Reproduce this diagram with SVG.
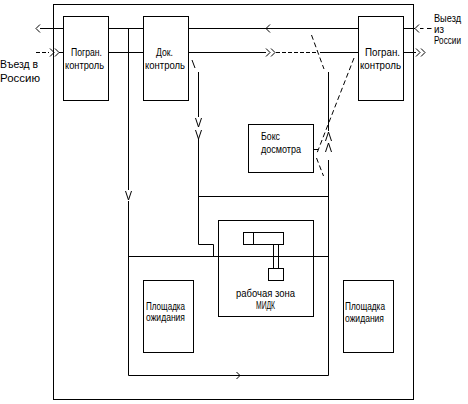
<svg xmlns="http://www.w3.org/2000/svg" width="468" height="404" viewBox="0 0 468 404">
<style>
.b{fill:none;stroke:#000;stroke-width:1}
.l{fill:none;stroke:#000;stroke-width:1}
.d{fill:none;stroke:#000;stroke-width:1;stroke-dasharray:4,2}
.d2{fill:none;stroke:#000;stroke-width:1;stroke-dasharray:5,3}
text{font-family:"Liberation Sans","DejaVu Sans",sans-serif;font-size:10.5px;fill:#000}
</style>
<rect x="0" y="0" width="468" height="404" fill="#fff"/>
<g id="outer"><rect class="b" x="53.5" y="4.5" width="360" height="395"/></g>
<g id="connectors">
<polyline class="l" points="40,24.5 36,28.5 40,32.5"/>
<line class="l" x1="40" y1="28.5" x2="63.5" y2="28.5"/>
<line class="l" x1="108.5" y1="28.5" x2="143.5" y2="28.5"/>
<line class="l" x1="188.5" y1="28.5" x2="358.5" y2="28.5"/>
<polyline class="l" points="270,24.5 266,28.5 270,32.5"/>
<line class="l" x1="403.5" y1="28.5" x2="415" y2="28.5"/>
<polyline class="l" points="419,24.5 415,28.5 419,32.5"/>
<line class="l" x1="420" y1="28.5" x2="423.5" y2="28.5"/>
<line class="l" x1="427" y1="28.5" x2="431.5" y2="28.5"/>
<line class="d" x1="36" y1="52.5" x2="49" y2="52.5" stroke-dasharray="3,2"/>
<polyline class="l" points="50,48.5 54,52.5 50,56.5"/>
<polyline class="l" points="55,48.5 59,52.5 55,56.5"/>
<line class="l" x1="59" y1="52.5" x2="63.5" y2="52.5"/>
<line class="l" x1="108.5" y1="52.5" x2="143.5" y2="52.5"/>
<line class="l" x1="188.5" y1="52.5" x2="266" y2="52.5"/>
<polyline class="l" points="266,48.5 270,52.5 266,56.5"/>
<polyline class="l" points="271,48.5 275,52.5 271,56.5"/>
<line class="d" x1="276" y1="52.5" x2="316" y2="52.5" stroke-dasharray="3,2"/>
<line class="l" x1="320" y1="52.5" x2="358.5" y2="52.5"/>
<line class="l" x1="403.5" y1="52.5" x2="416" y2="52.5"/>
<polyline class="l" points="416,48.5 420,52.5 416,56.5"/>
<polyline class="l" points="421,48.5 425,52.5 421,56.5"/>
<line class="l" x1="128.5" y1="28.5" x2="128.5" y2="190"/>
<polyline class="l" points="125.5,191 128.5,200 131.5,191"/>
<polyline class="l" points="128.5,201 128.5,375.5 328.5,375.5 328.5,160"/>
<polyline class="l" points="236.5,372 240,375.5 236.5,379"/>
<line class="l" x1="192" y1="60" x2="195" y2="68"/>
<line class="l" x1="198.5" y1="72" x2="198.5" y2="117"/>
<polyline class="l" points="195.5,118 198.5,127 201.5,118"/>
<polyline class="l" points="195.5,130 198.5,139 201.5,130"/>
<polyline class="l" points="198.5,139 198.5,244.5 213.5,244.5 213.5,256.5"/>
<line class="l" x1="198.5" y1="196.5" x2="328.5" y2="196.5"/>
<line class="l" x1="128.5" y1="256.5" x2="328.5" y2="256.5"/>
<line class="d2" x1="311.5" y1="35" x2="324" y2="69"/>
<line class="l" x1="328.5" y1="72" x2="328.5" y2="131"/>
<polyline class="l" points="325.5,141 328.5,132 331.5,141"/>
<polyline class="l" points="325.5,152 328.5,143 331.5,152"/>
<line class="d2" x1="354" y1="58" x2="317" y2="153"/>
<line class="l" x1="313.5" y1="149.5" x2="318" y2="149.5"/>
<line class="d2" x1="316.5" y1="158" x2="323.5" y2="176"/>
</g>
<g id="pogran-left"><rect class="b" x="63.5" y="16.5" width="45" height="84"/>
<text x="71" y="56" textLength="31" lengthAdjust="spacingAndGlyphs">Погран.</text>
<text x="65" y="68.5" textLength="39" lengthAdjust="spacingAndGlyphs">контроль</text></g>
<g id="dok"><rect class="b" x="143.5" y="16.5" width="45" height="84"/>
<text x="156" y="56" textLength="17" lengthAdjust="spacingAndGlyphs">Док.</text>
<text x="145" y="68.5" textLength="40" lengthAdjust="spacingAndGlyphs">контроль</text></g>
<g id="pogran-right"><rect class="b" x="358.5" y="16.5" width="45" height="84"/>
<text x="365" y="56" textLength="35" lengthAdjust="spacingAndGlyphs">Погран.</text>
<text x="360" y="68.5" textLength="41" lengthAdjust="spacingAndGlyphs">контроль</text></g>
<g id="box"><rect class="b" x="248.5" y="124.5" width="65" height="48"/>
<text x="261" y="140" textLength="19" lengthAdjust="spacingAndGlyphs">Бокс</text>
<text x="261" y="152.5" textLength="40" lengthAdjust="spacingAndGlyphs">досмотра</text></g>
<g id="midk"><rect class="b" x="218.5" y="220.5" width="95" height="96"/>
<rect class="b" x="243.5" y="232.5" width="10" height="12"/>
<rect class="b" x="253.5" y="232.5" width="30" height="12"/>
<line class="l" x1="273.5" y1="244.5" x2="273.5" y2="268.5"/>
<line class="l" x1="278.5" y1="244.5" x2="278.5" y2="268.5"/>
<rect class="b" x="268.5" y="268.5" width="15" height="12"/>
<text x="236" y="297" textLength="59" lengthAdjust="spacingAndGlyphs">рабочая зона</text>
<text x="256" y="308.5" textLength="19" lengthAdjust="spacingAndGlyphs">МИДК</text></g>
<g id="wait-left"><rect class="b" x="143.5" y="280.5" width="50" height="72"/>
<text x="146" y="309.5" textLength="39" lengthAdjust="spacingAndGlyphs">Площадка</text>
<text x="146" y="321" textLength="39" lengthAdjust="spacingAndGlyphs">ожидания</text></g>
<g id="wait-right"><rect class="b" x="343.5" y="280.5" width="50" height="72"/>
<text x="345" y="309.5" textLength="40" lengthAdjust="spacingAndGlyphs">Площадка</text>
<text x="345" y="321.5" textLength="39" lengthAdjust="spacingAndGlyphs">ожидания</text></g>
<g id="label-entry">
<text x="0" y="68" textLength="38" lengthAdjust="spacingAndGlyphs">Въезд в</text>
<text x="0" y="82" textLength="40" lengthAdjust="spacingAndGlyphs">Россию</text></g>
<g id="label-exit">
<text x="434" y="22" textLength="27" lengthAdjust="spacingAndGlyphs">Выезд</text>
<text x="434" y="33" textLength="10" lengthAdjust="spacingAndGlyphs">из</text>
<text x="434" y="43.5" textLength="27" lengthAdjust="spacingAndGlyphs">России</text></g>
</svg>
